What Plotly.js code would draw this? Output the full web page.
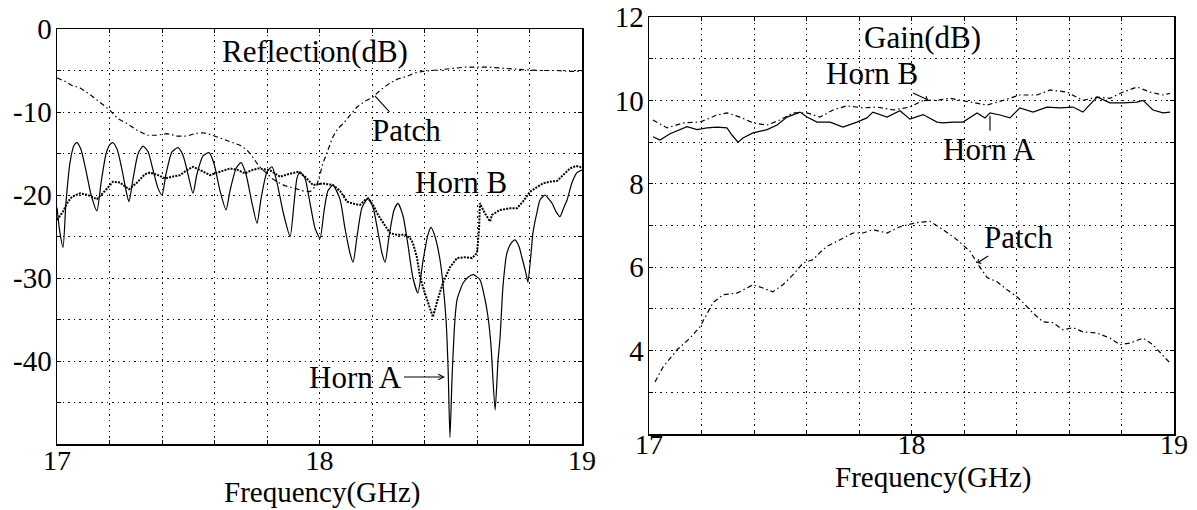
<!DOCTYPE html>
<html><head><meta charset="utf-8">
<script src="https://cdn.plot.ly/plotly-3.0.1.min.js"></script>
<style>html,body{margin:0;padding:0;background:#fff}#chart{width:1197px;height:510px}</style>
</head><body><div id="chart"></div>
<script>
// ---------- Left panel: Reflection (dB) ----------
const reflFreqHornA = [17.000,17.011,17.023,17.034,17.050,17.065,17.076,17.091,17.110,17.130,17.152,17.168,17.187,17.202,17.213,17.229,17.248,17.263,17.274,17.290,17.309,17.328,17.347,17.366,17.385,17.400,17.415,17.438,17.461,17.480,17.499,17.518,17.533,17.556,17.579,17.598,17.621,17.644,17.659,17.682,17.701,17.720,17.743,17.762,17.777,17.800,17.819,17.838,17.861,17.888,17.903,17.914,17.926,17.945,17.964,17.983,18.002,18.017,18.032,18.051,18.078,18.097,18.116,18.128,18.143,18.162,18.185,18.204,18.223,18.238,18.250,18.265,18.284,18.299,18.318,18.337,18.356,18.375,18.394,18.413,18.425,18.440,18.459,18.470,18.482,18.490,18.497,18.505,18.516,18.524,18.547,18.566,18.585,18.611,18.630,18.642,18.653,18.669,18.680,18.688,18.699,18.714,18.730,18.745,18.760,18.771,18.787,18.794,18.806,18.813,18.829,18.840,18.859,18.874,18.886,18.901,18.916,18.931,18.943,18.962,18.981,19.000];
const reflHornA = [-21.5,-24.5,-26.3,-21,-16,-14.0,-13.7,-14.5,-17,-20,-21.9,-18.5,-15,-13.9,-13.7,-14.5,-17,-19.5,-20.8,-18,-15,-14.1,-14.8,-17,-19.2,-20,-17.5,-14.8,-14.3,-15.2,-17.5,-19.8,-17.5,-15.3,-14.9,-16.2,-19.5,-21.8,-19.5,-16.8,-16.1,-17.5,-21,-23.4,-20.5,-17.2,-16.6,-18.5,-22,-25,-21,-18,-17.2,-18,-21,-24,-25.2,-22,-19.5,-18.8,-20.5,-24,-27,-28.1,-25,-21.5,-20.4,-21.5,-24.5,-27,-28.1,-25,-21.8,-21,-22.5,-26,-30,-31.8,-28,-24.8,-23.9,-25,-27.8,-30.6,-35,-41,-49.2,-42,-35,-32.6,-30.6,-29.9,-29.6,-30.2,-32.5,-34.7,-38,-45.9,-40,-37.1,-31,-27,-25.8,-25.4,-26.2,-27.5,-29.5,-30.5,-27,-24.6,-22,-20.6,-20,-20.5,-21,-22,-22.6,-21.5,-20.6,-18.5,-17.3,-17];

const reflFreqHornB = [17.000,17.011,17.023,17.038,17.057,17.088,17.118,17.152,17.183,17.213,17.240,17.274,17.305,17.335,17.354,17.385,17.411,17.438,17.469,17.495,17.518,17.545,17.583,17.621,17.659,17.690,17.716,17.743,17.766,17.789,17.811,17.830,17.850,17.880,17.918,17.945,17.975,18.013,18.051,18.078,18.105,18.135,18.154,18.173,18.185,18.204,18.223,18.246,18.269,18.295,18.326,18.345,18.356,18.371,18.383,18.398,18.413,18.432,18.451,18.470,18.497,18.524,18.554,18.581,18.600,18.608,18.611,18.630,18.650,18.657,18.688,18.726,18.752,18.775,18.802,18.829,18.851,18.878,18.905,18.928,18.954,18.977,18.992,19.000];
const reflHornB = [-23,-22.5,-22,-21,-20.2,-19.8,-20,-20.5,-19.5,-18.4,-18.5,-19.3,-18.5,-17.5,-17.3,-17.6,-18,-17.8,-17.6,-17,-16.6,-17,-17.6,-17.2,-16.8,-17,-17.4,-17,-16.8,-16.9,-17,-17.4,-17.8,-17.5,-17.2,-17.8,-18.8,-18.6,-18.8,-19.5,-20.8,-21.1,-21.2,-20.6,-20.4,-21.2,-22.4,-23.5,-24.6,-24.8,-24.8,-25.2,-25.8,-27.5,-29.9,-31.5,-33,-34.7,-32.5,-30.6,-28.7,-27.6,-27.5,-27.6,-27,-24,-21,-22.2,-23.2,-22.4,-21.8,-21.6,-21.6,-20.8,-19.6,-19,-18.6,-18.4,-18.3,-17.6,-16.8,-16.5,-16.6,-16.8];

const reflFreqPatch = [17.000,17.030,17.057,17.088,17.126,17.164,17.202,17.232,17.267,17.305,17.343,17.381,17.419,17.457,17.495,17.526,17.556,17.583,17.610,17.640,17.670,17.697,17.724,17.743,17.762,17.781,17.800,17.819,17.838,17.869,17.907,17.937,17.964,17.990,18.002,18.013,18.032,18.051,18.070,18.090,18.116,18.143,18.173,18.204,18.234,18.269,18.299,18.333,18.364,18.394,18.429,18.459,18.490,18.524,18.554,18.585,18.619,18.650,18.688,18.726,18.775,18.840,18.905,18.954,19.000];
const reflPatch = [-5.9,-6.3,-6.8,-7.1,-7.9,-8.9,-9.8,-10.8,-11.4,-12.2,-12.8,-12.8,-12.6,-12.9,-12.9,-12.6,-12.5,-12.7,-13,-13.3,-13.7,-14,-14.6,-15.3,-16.2,-16.9,-17.4,-18,-18.4,-18.9,-19.2,-19.5,-19.6,-18.8,-17.5,-16.2,-14.6,-13,-12,-11.4,-10.4,-9.4,-8.7,-8.2,-7.3,-6.5,-6,-5.7,-5.3,-5.1,-5,-4.9,-4.8,-4.7,-4.6,-4.6,-4.6,-4.6,-4.7,-4.8,-4.9,-5,-5.0,-5.1,-5.1];

// ---------- Right panel: Gain (dB) ----------
const gainFreqHornA = [17.015,17.042,17.080,17.145,17.183,17.221,17.259,17.297,17.316,17.339,17.358,17.396,17.450,17.488,17.526,17.575,17.602,17.640,17.690,17.739,17.792,17.830,17.853,17.907,17.956,17.994,18.044,18.097,18.120,18.158,18.196,18.250,18.280,18.299,18.337,18.375,18.413,18.463,18.516,18.566,18.615,18.653,18.707,18.756,18.806,18.859,18.882,18.920,18.958,18.985];
const gainHornA = [9.13,9.05,9.2,9.37,9.3,9.34,9.36,9.34,9.17,9.0,9.1,9.22,9.3,9.41,9.6,9.72,9.6,9.48,9.48,9.36,9.48,9.58,9.72,9.6,9.75,9.55,9.66,9.48,9.46,9.48,9.48,9.7,9.58,9.7,9.65,9.58,9.82,9.72,9.84,9.82,9.84,9.72,10.08,9.94,9.94,9.96,10.0,9.77,9.7,9.72];

const gainFreqHornB = [17.015,17.069,17.130,17.194,17.259,17.297,17.347,17.396,17.450,17.499,17.549,17.602,17.651,17.701,17.754,17.815,17.869,17.930,17.994,18.044,18.097,18.147,18.223,18.288,18.349,18.413,18.478,18.528,18.592,18.653,18.707,18.756,18.806,18.859,18.909,18.958,18.985];
const gainHornB = [9.53,9.34,9.46,9.48,9.65,9.7,9.6,9.46,9.41,9.53,9.7,9.7,9.6,9.77,9.87,9.82,9.84,9.77,9.84,10.0,10.0,10.05,9.96,9.89,10.0,10.13,10.13,10.25,10.2,10.0,10.08,10.05,10.2,10.32,10.2,10.13,10.17];

const gainFreqPatch = [17.023,17.053,17.107,17.156,17.194,17.221,17.244,17.282,17.335,17.373,17.396,17.434,17.472,17.510,17.549,17.587,17.625,17.651,17.678,17.728,17.777,17.815,17.853,17.907,17.956,18.021,18.070,18.120,18.173,18.223,18.250,18.288,18.326,18.364,18.402,18.425,18.463,18.501,18.539,18.577,18.615,18.653,18.707,18.756,18.794,18.832,18.882,18.920,18.947,18.985];
const gainPatch = [3.25,3.6,4.02,4.3,4.57,4.9,5.15,5.34,5.38,5.5,5.58,5.5,5.41,5.58,5.82,6.1,6.18,6.35,6.5,6.66,6.82,6.82,6.9,6.82,6.97,7.07,7.1,6.9,6.66,6.38,6.1,5.75,5.65,5.46,5.29,5.15,4.9,4.69,4.67,4.5,4.55,4.45,4.42,4.3,4.14,4.18,4.3,4.14,3.95,3.7];

// ---------- Tick labels ----------
const freqTickVals = [17,17.2,17.4,17.6,17.8,18,18.2,18.4,18.6,18.8,19];
const freqTickText = ['17','','','','','18','','','','','19'];
const reflTickVals = [-50,-45,-40,-35,-30,-25,-20,-15,-10,-5,0];
const reflTickText = ['','','-40','','-30','','-20','','-10','','0'];
const gainTickVals = [2,3,4,5,6,7,8,9,10,11,12];
const gainTickText = ['','','4','','6','','8','','10','','12'];
const xTitleText = 'Frequency(GHz)';

const SERIF = '"Liberation Serif", "Times New Roman", serif';
const solid = {color:'#000', width:1.2};
const solidSmooth = {color:'#000', width:1.2, shape:'spline', smoothing:0.6};
const dotted = {color:'#000', width:2, dash:'2px,1.2px'};
const dashdot = {color:'#000', width:1.2, dash:'5px,3px,1.5px,3px'};

const traces = [
  {x: reflFreqPatch, y: reflPatch, xaxis:'x', yaxis:'y', mode:'lines', name:'Patch', line: dashdot},
  {x: reflFreqHornB, y: reflHornB, xaxis:'x', yaxis:'y', mode:'lines', name:'Horn B', line: dotted},
  {x: reflFreqHornA, y: reflHornA, xaxis:'x', yaxis:'y', mode:'lines', name:'Horn A', line: solidSmooth},
  {x: gainFreqPatch, y: gainPatch, xaxis:'x2', yaxis:'y2', mode:'lines', name:'Patch', line: dashdot},
  {x: gainFreqHornB, y: gainHornB, xaxis:'x2', yaxis:'y2', mode:'lines', name:'Horn B', line: dashdot},
  {x: gainFreqHornA, y: gainHornA, xaxis:'x2', yaxis:'y2', mode:'lines', name:'Horn A', line: solid}
];

function xAx(domain, anchor, standoffLbl) {
  return {
    domain: domain, anchor: anchor, range: [17, 19],
    tickmode: 'array', tickvals: freqTickVals, ticktext: freqTickText,
    ticks: 'inside', ticklen: 4, tickwidth: 1, tickcolor: '#000',
    showline: true, linecolor: '#000', linewidth: 1.5, mirror: 'ticks',
    showgrid: true, gridcolor: '#111', gridwidth: 1, griddash: '1.5px,4px',
    zeroline: false, ticklabelstandoff: standoffLbl,
    tickfont: {family: SERIF, size: 28, color: '#000'}
  };
}
function yAx(domain, anchor, range, vals, text) {
  return {
    domain: domain, anchor: anchor, range: range,
    tickmode: 'array', tickvals: vals, ticktext: text,
    ticks: 'inside', ticklen: 4, tickwidth: 1, tickcolor: '#000',
    showline: true, linecolor: '#000', linewidth: 1.5, mirror: 'ticks',
    showgrid: true, gridcolor: '#111', gridwidth: 1, griddash: '1.5px,4px',
    zeroline: false, ticklabelstandoff: -2,
    tickfont: {family: SERIF, size: 29, color: '#000'}
  };
}

const annFont = {family: SERIF, size: 31, color: '#000'};
const titleFont = {family: SERIF, size: 29, color: '#000'};
const layout = {
  width: 1197, height: 510,
  margin: {l: 0, r: 0, t: 0, b: 0, pad: 0},
  paper_bgcolor: '#fff', plot_bgcolor: '#fff',
  showlegend: false,
  xaxis: xAx([57/1197, 582/1197], 'y', -9),
  yaxis: yAx([66/510, 481/510], 'x', [-50, 0], reflTickVals, reflTickText),
  xaxis2: xAx([649/1197, 1174/1197], 'y2', -15),
  yaxis2: yAx([76/510, 493/510], 'x2', [2, 12], gainTickVals, gainTickText),
  annotations: [
    {xref:'paper', yref:'paper', x:322/1197, y:18/510, xanchor:'center', yanchor:'middle', text:xTitleText, showarrow:false, font: titleFont},
    {xref:'paper', yref:'paper', x:933/1197, y:33/510, xanchor:'center', yanchor:'middle', text:xTitleText, showarrow:false, font: titleFont},
    {xref:'x', yref:'y', x:17.983, y:-2.77, text:'Reflection(dB)', showarrow:false, font: annFont},
    {xref:'x', yref:'y', x:18.211, y:-8.07, ax:32, ay:35, text:'Patch', showarrow:true, arrowhead:0, arrowwidth:1.1, arrowcolor:'#000', font: annFont},
    {xref:'x', yref:'y', x:18.539, y:-18.55, text:'Horn B', showarrow:false, font: annFont},
    {xref:'x', yref:'y', x:18.478, y:-41.93, ax:-89, ay:0, text:'Horn A', showarrow:true, arrowhead:5, arrowsize:1, arrowwidth:1.1, arrowcolor:'#000', font: annFont},
    {xref:'x2', yref:'y2', x:18.04, y:11.52, text:'Gain(dB)', showarrow:false, font: annFont},
    {xref:'x2', yref:'y2', x:18.063, y:10.01, ax:-56, ay:-26, text:'Horn B', showarrow:true, arrowhead:4, arrowsize:0.9, arrowwidth:1.1, arrowcolor:'#000', font: annFont},
    {xref:'x2', yref:'y2', x:18.299, y:9.63, ax:0, ay:34, text:'Horn A', showarrow:true, arrowhead:0, arrowwidth:1.1, arrowcolor:'#000', font: annFont},
    {xref:'x2', yref:'y2', x:18.25, y:6.1, ax:41, ay:-26, text:'Patch', showarrow:true, arrowhead:4, arrowsize:0.9, arrowwidth:1.1, arrowcolor:'#000', font: annFont}
  ]
};

Plotly.newPlot('chart', traces, layout, {staticPlot: true, displayModeBar: false});
</script></body></html>
